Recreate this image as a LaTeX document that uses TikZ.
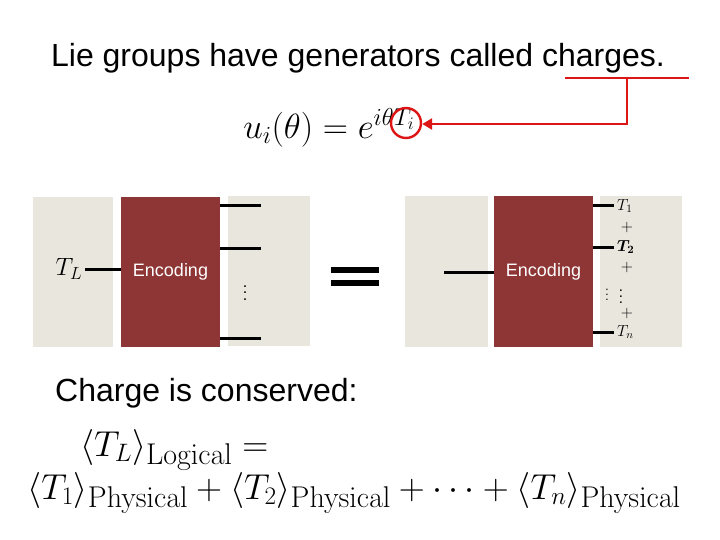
\RequirePackage{fix-cm}
\documentclass[tikz,border=0pt]{standalone}
\usepackage{amsmath}
\usepackage{graphicx}
\usepackage[no-math]{fontspec}
\setmainfont{Liberation Sans}
\usetikzlibrary{arrows.meta}
\definecolor{beige}{HTML}{E9E6DE}
\definecolor{encred}{HTML}{8E3535}
\definecolor{arrred}{HTML}{DD1515}
\newcommand{\subtxt}[1]{\mbox{\fontsize{30}{32}\selectfont$\mathrm{#1}$}}
\newcommand{\bigvdots}[1]{\scalebox{#1}{\fontsize{10}{12}\selectfont$\vdots$}}
\tikzset{
  panel/.style={fill=beige, draw=none, inner sep=0pt},
  encbox/.style={fill=encred, draw=none, inner sep=0pt, text=white, font=\fontsize{18}{20}\selectfont},
  wire/.style={line width=3pt, black},
  bigtext/.style={font=\fontsize{32}{36}\selectfont, inner sep=0pt},
  small/.style={font=\fontsize{16}{18}\selectfont, inner sep=0pt},
  redline/.style={line width=2.6pt, arrred},
  bigmath/.style={inner sep=0pt, font=\fontsize{36}{40}\selectfont},
  dotsnode/.style={inner sep=0pt, outer sep=0pt},
}
\begin{document}
\begin{tikzpicture}[x=1pt, y=-1pt]
\useasboundingbox (0,0) rectangle (720,540);
% title
\node[bigtext] (title) at (358,58) {Lie groups have generators called charges.};
% formula
\node[inner sep=0pt, font=\fontsize{35}{38}\selectfont] (formula) at (329,128) {$u_i(\theta)=e^{i\theta T_i}$};
\node[draw=arrred, line width=2.4pt, circle, minimum size=30pt, inner sep=0pt] (circ) at (406,123) {};
\coordinate (r1) at (565,78);
\coordinate (r2) at (689,78);
\coordinate (r3) at (627,78);
\coordinate (r4) at (627,124);
\draw[redline] (r1) -- (r2);
\draw[redline, -{Triangle[length=10pt,width=11pt]}] (r3) -- (r4) -- (circ.east |- r4);
% left panel
\node[panel, minimum width=80pt, minimum height=150pt] (lb1) at (73,272) {};
\node[encbox, minimum width=99pt, minimum height=150pt] (enc1) at (170.5,272) {Encoding};
\node[panel, minimum width=82pt, minimum height=150pt] (lb2) at (269,271) {};
\node[inner sep=0pt, font=\fontsize{25}{28}\selectfont] (TL) at (69,269) {$T_L$};
\draw[wire] (TL.east) ++(3,0) coordinate (tle) (tle) -- (enc1.west |- tle);
\coordinate (a1) at (220,206); \coordinate (a1e) at (261,206);
\coordinate (a2) at (220,248); \coordinate (a2e) at (261,248);
\coordinate (a3) at (220,338); \coordinate (a3e) at (261,338);
\draw[wire] (a1) -- (a1e);
\draw[wire] (a2) -- (a2e);
\draw[wire] (a3) -- (a3e);
\node[dotsnode] (ld) at (245,288) {\bigvdots{1.6}};
% equals
\fill (331,267) rectangle (379,272.5);
\fill (331,280) rectangle (379,285.5);
% right panel
\node[panel, minimum width=83pt, minimum height=151pt] (rb1) at (446.5,271.5) {};
\node[encbox, minimum width=99pt, minimum height=151pt] (enc2) at (543.5,271.5) {Encoding};
\node[panel, minimum width=82pt, minimum height=151pt] (rb2) at (641,271.5) {};
\coordinate (li) at (444,272);
\draw[wire] (li) -- (enc2.west |- li);
\node[small, anchor=west, inner xsep=3pt] (T1) at (614,206) {$T_1$};
\node[small] (p1) at (627,227) {$+$};
\node[small, anchor=west, inner xsep=3pt] (T2) at (614,247) {$\boldsymbol{T_2}$};
\node[small] (p2) at (627,267) {$+$};
\node[dotsnode] (d1) at (607,291) {\bigvdots{1.2}};
\node[dotsnode] (d2) at (621,292) {\bigvdots{1.5}};
\node[small] (p3) at (627,313) {$+$};
\node[small, anchor=west, inner xsep=3pt] (Tn) at (614,332) {$T_n$};
\draw[wire] (enc2.east |- T1) -- (T1.west);
\draw[wire] (enc2.east |- T2) -- (T2.west);
\draw[wire] (enc2.east |- Tn) -- (Tn.west);
% bottom text
\node[bigtext, anchor=west] (charge) at (55,393) {Charge is conserved:};
\node[bigmath, anchor=base west] (m1) at (80,456) {$\langle T_L\rangle_{\subtxt{Logical}}=$};
\node[bigmath, anchor=base] (m2) at (354,499) {$\langle T_1\rangle_{\subtxt{Physical}}+\langle T_2\rangle_{\subtxt{Physical}}+\cdots+\langle T_n\rangle_{\subtxt{Physical}}$};
\end{tikzpicture}
\end{document}
